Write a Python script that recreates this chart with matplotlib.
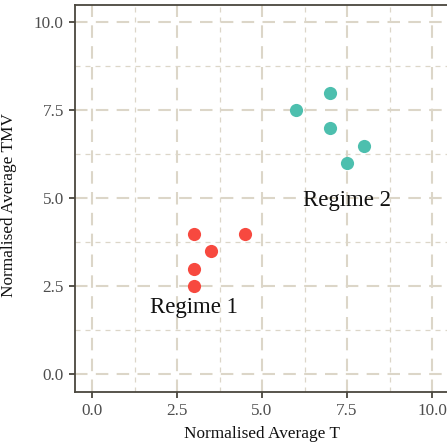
import matplotlib
matplotlib.use("Agg")
import matplotlib.pyplot as plt
from matplotlib.ticker import MultipleLocator

plt.rcParams['font.family'] = ['Liberation Serif', 'DejaVu Serif']

regime1_t = [3.0, 4.5, 3.5, 3.0, 3.0]
regime1_tmv = [4.0, 4.0, 3.5, 3.0, 2.5]
regime2_t = [7.0, 6.0, 7.0, 8.0, 7.5]
regime2_tmv = [8.0, 7.5, 7.0, 6.5, 6.0]
labels = ["Regime 1", "Regime 2"]
label_pos = [(3.0, 1.9), (7.5, 4.95)]
ticks = [0.0, 2.5, 5.0, 7.5, 10.0]

fig = plt.figure(figsize=(4.47, 4.43), dpi=100)
ax = fig.add_axes([0.1678, 0.1151, 0.8367, 0.8743])

ax.set_xlim(-0.5, 10.5)
ax.set_ylim(-0.5, 10.5)
ax.set_xticks(ticks)
ax.set_yticks(ticks)
ax.set_xticklabels([f"{t:.1f}" for t in ticks])
ax.set_yticklabels([f"{t:.1f}" for t in ticks])
ax.xaxis.set_minor_locator(MultipleLocator(1.25))
ax.yaxis.set_minor_locator(MultipleLocator(1.25))

grid_col = '#dcd6c8'
ax.grid(which='major', color=grid_col, linewidth=1.5, dashes=(6, 4))
ax.grid(which='minor', color=grid_col, linewidth=0.9, dashes=(4, 4))
ax.set_axisbelow(True)

ax.scatter(regime1_t, regime1_tmv, s=90, color='#f7493f', zorder=3, linewidths=0)
ax.scatter(regime2_t, regime2_tmv, s=90, color='#4dbfae', zorder=3, linewidths=0)

for lab, (x, y) in zip(labels, label_pos):
    ax.text(x, y, lab, ha='center', va='center', fontsize=16.5, color='#111111')

spine_col = '#4a473e'
for side in ['left', 'bottom', 'top']:
    ax.spines[side].set_color(spine_col)
    ax.spines[side].set_linewidth(1.3)
ax.spines['right'].set_visible(False)

ax.tick_params(which='major', length=4, width=1.3, color=spine_col,
               labelsize=12.3, labelcolor='#4d4d4d', pad=4)
ax.tick_params(which='minor', length=0)

ax.set_xlabel("Normalised Average T", fontsize=12.4, color='#111111', labelpad=5)
ax.set_ylabel("Normalised Average TMV", fontsize=12.4, color='#111111')
ax.yaxis.set_label_coords(-0.155, 0.483)

fig.savefig("out.png", dpi=100)
